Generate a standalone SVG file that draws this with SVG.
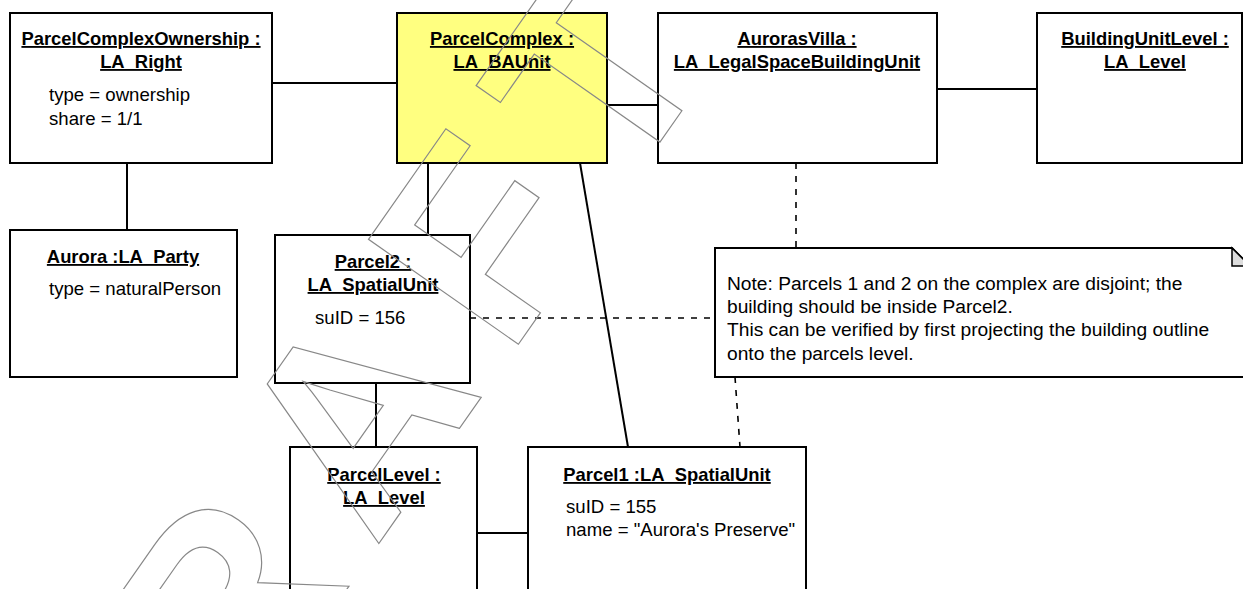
<svg xmlns="http://www.w3.org/2000/svg" width="1243" height="589" viewBox="0 0 1243 589">
  <style>
    .box { fill: #ffffff; stroke: #000000; stroke-width: 2; }
    .ba { fill: #ffff80; }
    .t { font-family: "Liberation Sans", Arial, sans-serif; font-weight: bold; font-size: 18.4px; text-anchor: middle; fill: #000000; text-decoration: underline; text-underline-offset: 4px; text-decoration-thickness: 2px; }
    .a { font-family: "Liberation Sans", Arial, sans-serif; font-size: 18.6px; fill: #000000; }
    .n { font-family: "Liberation Sans", Arial, sans-serif; font-size: 19.2px; fill: #000000; }
    .c { fill: none; stroke: #000000; stroke-width: 2; }
    .d { fill: none; stroke: #000000; stroke-width: 1.6; stroke-dasharray: 6 7; }
    .wm { font-family: "Liberation Sans", Arial, sans-serif; font-weight: bold; font-size: 266px; letter-spacing: 40px; font-kerning: none; fill: none; stroke: #888888; stroke-width: 1.2; }
  </style>

  <rect width="1243" height="589" fill="#ffffff"/>

  <!-- links between objects -->
  <g id="connectors">
    <path class="c" d="M272,83 H397"/>
    <path class="c" d="M607,105 H658"/>
    <path class="c" d="M937,89 H1037"/>
    <path class="c" d="M127,163 V230"/>
    <path class="c" d="M428,163 V235"/>
    <path class="c" d="M580,163 L628,447"/>
    <path class="c" d="M376,383 V447"/>
    <path class="c" d="M477,533 H528"/>
    <path class="d" d="M796,163 V248"/>
    <path class="d" d="M470,318 H715"/>
    <path class="d" d="M735,377 L740,447"/>
  </g>

  <g id="parcelComplexOwnership">
    <rect class="box" x="10" y="13" width="262" height="150"/>
    <text class="t" x="141" y="45">ParcelComplexOwnership :</text>
    <text class="t" x="141" y="68">LA_Right</text>
    <text class="a" x="49" y="101">type = ownership</text>
    <text class="a" x="49" y="125">share = 1/1</text>
  </g>

  <g id="parcelComplex">
    <rect class="box ba" x="397" y="13" width="210" height="150"/>
    <text class="t" x="502" y="45">ParcelComplex :</text>
    <text class="t" x="502" y="68">LA_BAUnit</text>
  </g>

  <g id="aurorasVilla">
    <rect class="box" x="658" y="13" width="279" height="150"/>
    <text class="t" x="797" y="45">AurorasVilla :</text>
    <text class="t" x="797" y="68">LA_LegalSpaceBuildingUnit</text>
  </g>

  <g id="buildingUnitLevel">
    <rect class="box" x="1037" y="13" width="205" height="150"/>
    <text class="t" x="1145" y="45">BuildingUnitLevel :</text>
    <text class="t" x="1145" y="68">LA_Level</text>
  </g>

  <g id="aurora">
    <rect class="box" x="10" y="230" width="227" height="147"/>
    <text class="t" x="123" y="263">Aurora :LA_Party</text>
    <text class="a" x="49" y="295">type = naturalPerson</text>
  </g>

  <g id="parcel2">
    <rect class="box" x="275" y="235" width="195" height="148"/>
    <text class="t" x="373" y="268">Parcel2 :</text>
    <text class="t" x="373" y="291">LA_SpatialUnit</text>
    <text class="a" x="315" y="324">suID = 156</text>
  </g>

  <g id="parcelLevel">
    <rect class="box" x="290" y="447" width="187" height="160"/>
    <text class="t" x="384" y="481">ParcelLevel :</text>
    <text class="t" x="384" y="504">LA_Level</text>
  </g>

  <g id="parcel1">
    <rect class="box" x="528" y="447" width="278" height="160"/>
    <text class="t" x="667" y="481">Parcel1 :LA_SpatialUnit</text>
    <text class="a" x="566" y="513">suID = 155</text>
    <text class="a" x="566" y="536">name = "Aurora's Preserve"</text>
  </g>

  <g id="note">
    <path class="box" d="M715,248 H1232 L1250,266 V377 H715 Z"/>
    <path d="M1232,248 V266 H1250 Z" fill="#dddddd" stroke="#000000" stroke-width="1.5"/>
    <text class="n" x="727" y="290">Note: Parcels 1 and 2 on the complex are disjoint; the</text>
    <text class="n" x="727" y="313">building should be inside Parcel2.</text>
    <text class="n" x="727" y="336">This can be verified by first projecting the building outline</text>
    <text class="n" x="727" y="360">onto the parcels level.</text>
  </g>

  <!-- outlined watermark across the sheet -->
  <g id="watermark">
    <text class="wm" transform="translate(108.8 929.2) rotate(-55)">DRAFT</text>
  </g>
</svg>
